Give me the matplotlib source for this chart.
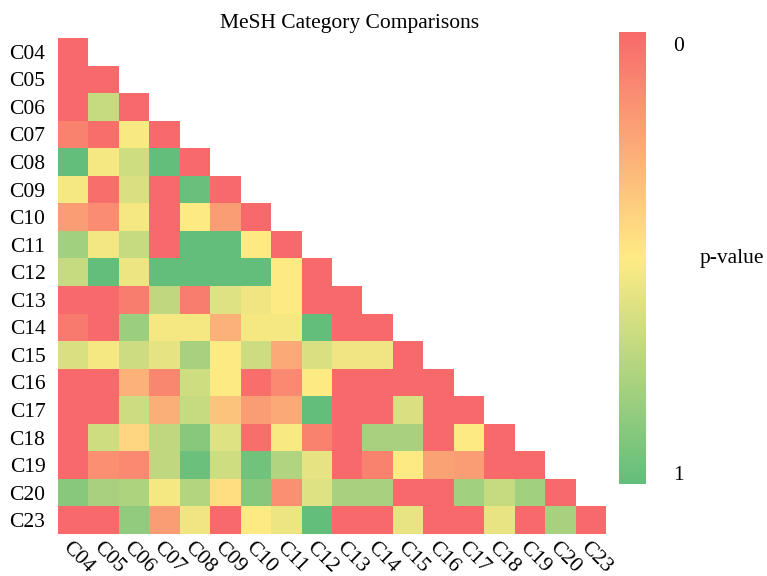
import numpy as np
import matplotlib
matplotlib.use("Agg")
import matplotlib.pyplot as plt
import matplotlib.transforms as mtransforms
from matplotlib.colors import LinearSegmentedColormap

categories = ["C04", "C05", "C06", "C07", "C08", "C09", "C10", "C11", "C12",
              "C13", "C14", "C15", "C16", "C17", "C18", "C19", "C20", "C23"]

# lower-triangle p-values, row by row (including diagonal)
row_C04 = [0.0]
row_C05 = [0.0, 0.0]
row_C06 = [0.0, 0.68, 0.0]
row_C07 = [0.10, 0.02, 0.52, 0.0]
row_C08 = [1.0, 0.53, 0.65, 1.0, 0.0]
row_C09 = [0.53, 0.02, 0.62, 0.0, 0.98, 0.0]
row_C10 = [0.20, 0.14, 0.53, 0.0, 0.50, 0.20, 0.0]
row_C11 = [0.80, 0.54, 0.68, 0.0, 1.0, 1.0, 0.50, 0.0]
row_C12 = [0.68, 1.0, 0.56, 1.0, 1.0, 1.0, 1.0, 0.50, 0.0]
row_C13 = [0.0, 0.0, 0.08, 0.70, 0.08, 0.60, 0.55, 0.50, 0.0, 0.0]
row_C14 = [0.07, 0.0, 0.82, 0.53, 0.53, 0.28, 0.53, 0.53, 1.0, 0.0, 0.0]
row_C15 = [0.62, 0.53, 0.66, 0.58, 0.78, 0.50, 0.66, 0.25, 0.62, 0.55, 0.55, 0.0]
row_C16 = [0.0, 0.0, 0.28, 0.12, 0.65, 0.50, 0.02, 0.13, 0.50, 0.0, 0.0, 0.0, 0.0]
row_C17 = [0.0, 0.0, 0.66, 0.27, 0.68, 0.35, 0.20, 0.25, 1.0, 0.0, 0.0, 0.62, 0.0, 0.0]
row_C18 = [0.0, 0.65, 0.42, 0.70, 0.88, 0.60, 0.02, 0.52, 0.10, 0.0, 0.78, 0.78, 0.0, 0.50, 0.0]
row_C19 = [0.0, 0.15, 0.13, 0.70, 0.97, 0.65, 0.95, 0.75, 0.58, 0.0, 0.10, 0.50, 0.22, 0.20, 0.0, 0.0]
row_C20 = [0.88, 0.78, 0.76, 0.53, 0.74, 0.45, 0.88, 0.15, 0.60, 0.78, 0.78, 0.0, 0.0, 0.80, 0.68, 0.80, 0.0]
row_C23 = [0.0, 0.0, 0.85, 0.20, 0.55, 0.0, 0.50, 0.56, 1.0, 0.0, 0.0, 0.57, 0.0, 0.0, 0.57, 0.0, 0.78, 0.0]

rows = [row_C04, row_C05, row_C06, row_C07, row_C08, row_C09, row_C10, row_C11,
        row_C12, row_C13, row_C14, row_C15, row_C16, row_C17, row_C18, row_C19,
        row_C20, row_C23]

n = len(categories)
mat = np.full((n, n), np.nan)
for i, r in enumerate(rows):
    mat[i, :len(r)] = r
data = np.ma.masked_invalid(mat)

cmap = LinearSegmentedColormap.from_list("rg", ["#F8696B", "#FFEB84", "#63BE7B"])

plt.rcParams["font.family"] = ["Liberation Serif", "DejaVu Serif"]
FS = 15.5

fig = plt.figure(figsize=(7.67, 5.76), dpi=100)
ax = fig.add_axes([0.0756, 0.0729, 0.7144, 0.8611])
im = ax.imshow(data, cmap=cmap, vmin=0, vmax=1, aspect="auto", interpolation="nearest")

ax.set_xticks(np.arange(n))
ax.set_yticks(np.arange(n))
ax.set_xticklabels(categories, rotation=-45, ha="center", fontsize=FS)
ax.set_yticklabels(categories, fontsize=FS)
ax.tick_params(axis="y", length=0, pad=9)
ax.tick_params(axis="x", length=0, pad=3)
offset = mtransforms.ScaledTranslation(5 / 100, 0, fig.dpi_scale_trans)
for lab in ax.get_xticklabels():
    lab.set_transform(lab.get_transform() + offset)
for s in ax.spines.values():
    s.set_visible(False)

fig.text(350 / 767, 1 - 28 / 576, "MeSH Category Comparisons", fontsize=FS,
         ha="center", va="baseline")

cax = fig.add_axes([0.807, 0.160, 0.035, 0.784])
cb = fig.colorbar(im, cax=cax)
cb.outline.set_visible(False)
cb.ax.invert_yaxis()
cb.set_ticks([0.025, 0.975])
cb.set_ticklabels(["0", "1"])
cb.ax.tick_params(length=0, labelsize=FS, pad=20)
fig.text(700 / 767, 1 - 258 / 576, "p-value", fontsize=FS, ha="left", va="center")

fig.savefig("out.png", dpi=100)
